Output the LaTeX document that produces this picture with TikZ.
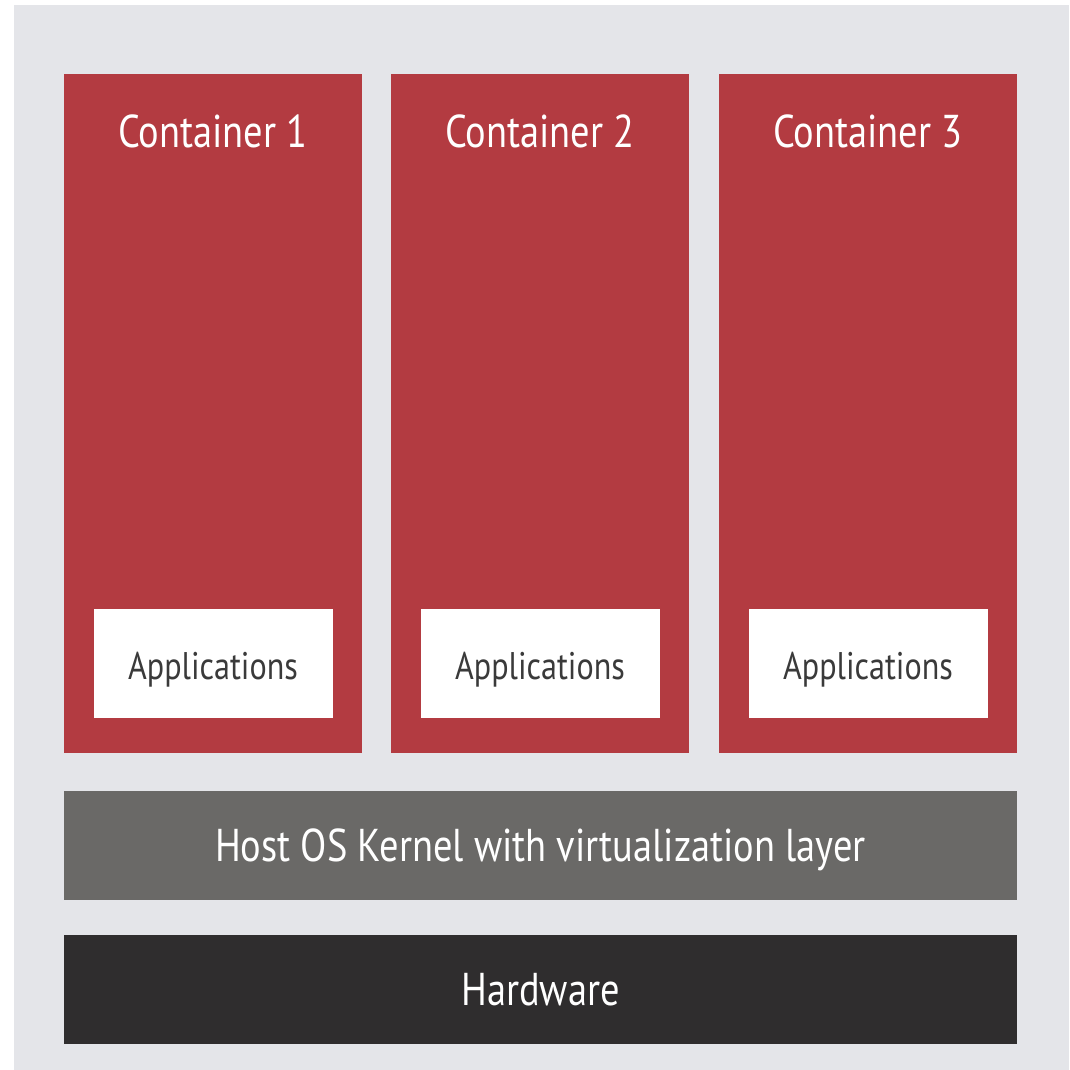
\documentclass[tikz,border=0pt]{standalone}
\usepackage{fontspec}
\setmainfont{PT Sans}[FakeStretch=0.835]
\usetikzlibrary{positioning}

\definecolor{pagegray}{HTML}{E4E5E9}
\definecolor{boxred}{HTML}{B33B41}
\definecolor{kerngray}{HTML}{6A6967}
\definecolor{hwblack}{HTML}{2F2D2E}
\definecolor{apptext}{HTML}{3A3A3A}

\begin{document}
\begin{tikzpicture}[x=1pt,y=-1pt,
    contbox/.style={rectangle,inner sep=0pt,fill=boxred,
      minimum width=298pt,minimum height=679pt},
    appbox/.style={rectangle,inner sep=0pt,fill=white,text=apptext,
      minimum width=239pt,minimum height=109pt,
      text height=31pt,text depth=0pt,
      font=\fontsize{38.5}{44}\selectfont},
    title/.style={anchor=base,inner sep=0pt,text=white,
      font=\fontsize{46}{52}\selectfont},
    layer/.style={rectangle,inner sep=0pt,text=white,
      minimum width=953pt,minimum height=109pt,
      text height=32pt,text depth=0pt,
      font=\fontsize{46}{52}\selectfont}]
%
  \useasboundingbox (0,0) rectangle (1069,1070) ;
  \fill [pagegray] (14,5) rectangle (1069,1070) ;
%
  \node [contbox] (cont1) at (213,413.5) {} ;
  \node [contbox] (cont2) at (540,413.5) {} ;
  \node [contbox] (cont3) at (868,413.5) {} ;
%
  \node [title] (tit1) at (cont1 |- 0,147) {Container 1} ;
  \node [title] (tit2) at (cont2 |- 0,147) {Container 2} ;
  \node [title] (tit3) at (cont3 |- 0,147) {Container 3} ;
%
  \node [appbox,above=35pt of cont1.south] (app1) {Applications} ;
  \node [appbox,above=35pt of cont2.south] (app2) {Applications} ;
  \node [appbox,above=35pt of cont3.south] (app3) {Applications} ;
%
  \node [layer,fill=kerngray] (kern) at (540.5,845.5)
    {Host OS Kernel with virtualization layer} ;
  \node [layer,fill=hwblack,below=35pt of kern] (hw) {Hardware} ;
%
\end{tikzpicture}
\end{document}
